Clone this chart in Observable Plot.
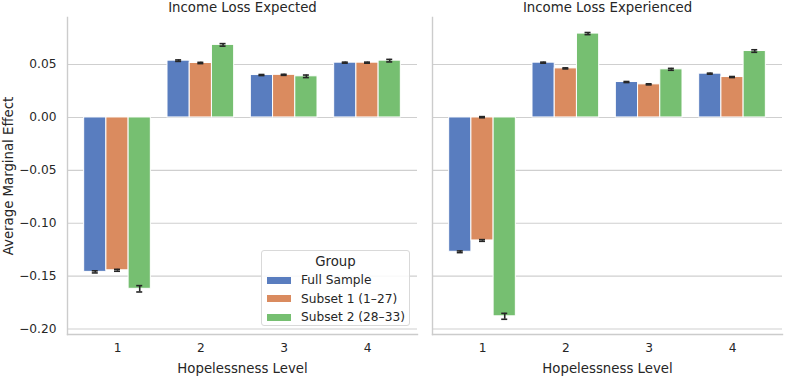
<!DOCTYPE html>
<html>
<head>
<meta charset="utf-8">
<script src="https://cdn.jsdelivr.net/npm/d3@7"></script>
<script src="https://cdn.jsdelivr.net/npm/@observablehq/plot@0.6"></script>
<style>
  html, body { margin: 0; padding: 0; background: #fff; }
  #wrap { position: relative; width: 785px; height: 377px; font-family: "DejaVu Sans", sans-serif; color: #262626; }
  #legend { position: absolute; left: 261px; top: 250px; width: 149px; height: 76px; border: 1px solid #d9d9d9; border-radius: 3px; background: rgba(255,255,255,0.85); box-sizing: border-box; }
  #legend .title { position: absolute; left: 0; width: 100%; top: 2px; text-align: center; font-size: 13.3px; line-height: 18px; }
  #legend .row { position: absolute; left: 5px; height: 18px; display: flex; align-items: center; font-size: 12.2px; white-space: nowrap; }
  #legend .sw { width: 24px; height: 7px; margin-right: 10px; }
</style>
</head>
<body>
<div id="wrap"></div>
<script>
const panels = ["Income Loss Expected", "Income Loss Experienced"];
const levels = [1, 2, 3, 4];
const groups = ["Full Sample", "Subset 1 (1–27)", "Subset 2 (28–33)"];
const colors = ["#597dbf", "#da8b5f", "#76bf71"];
const yTicks = [-0.20, -0.15, -0.10, -0.05, 0.00, 0.05];

// values per level (1..4) for each group
const expectedFull    = [-0.1460, 0.0537, 0.0401, 0.0518];
const expectedSub1    = [-0.1445, 0.0515, 0.0403, 0.0518];
const expectedSub2    = [-0.1620, 0.0686, 0.0389, 0.0537];
const experiencedFull = [-0.1270, 0.0518, 0.0335, 0.0414];
const experiencedSub1 = [-0.1163, 0.0464, 0.0313, 0.0382];
const experiencedSub2 = [-0.1880, 0.0793, 0.0455, 0.0628];

// error half-widths
const expectedFullErr    = [0.0010, 0.0007, 0.0005, 0.0005];
const expectedSub1Err    = [0.0009, 0.0006, 0.0005, 0.0005];
const expectedSub2Err    = [0.0030, 0.0012, 0.0012, 0.0012];
const experiencedFullErr = [0.0008, 0.0005, 0.0005, 0.0005];
const experiencedSub1Err = [0.0008, 0.0005, 0.0005, 0.0005];
const experiencedSub2Err = [0.0028, 0.0010, 0.0009, 0.0012];

// a stray error marker drawn at zero in the reference
const strayMarks = [{panel: "Income Loss Experienced", level: 1, group: "Subset 1 (1–27)", lo: -0.0003, hi: 0.0008}];

const series = [
  [panels[0], groups[0], expectedFull, expectedFullErr],
  [panels[0], groups[1], expectedSub1, expectedSub1Err],
  [panels[0], groups[2], expectedSub2, expectedSub2Err],
  [panels[1], groups[0], experiencedFull, experiencedFullErr],
  [panels[1], groups[1], experiencedSub1, experiencedSub1Err],
  [panels[1], groups[2], experiencedSub2, experiencedSub2Err]
];
const rows = [];
for (const [panel, group, vals, errs] of series) {
  levels.forEach((level, i) => rows.push({panel, group, level, value: vals[i], lo: vals[i] - errs[i], hi: vals[i] + errs[i]}));
}

const groupWidth = 0.8;
const bw = groupWidth / groups.length;
const left = d => d.level - groupWidth / 2 + groups.indexOf(d.group) * bw;
const center = d => left(d) + bw / 2;
const cap = 0.036;
const errs = rows.concat(strayMarks);
const ink = "#262626";

const chart = Plot.plot({
  width: 785,
  height: 377,
  marginLeft: 67,
  marginRight: 2,
  marginTop: 17,
  marginBottom: 43,
  style: {fontFamily: "DejaVu Sans, sans-serif", fontSize: "12.2px", color: ink, background: "white"},
  fx: {domain: panels, padding: 0.041, axis: null},
  x: {type: "linear", domain: [0.4, 4.6]},
  y: {domain: [-0.2052, 0.0945]},
  color: {domain: groups, range: colors},
  marks: [
    Plot.gridY(yTicks, {stroke: "#cfcfcf", strokeOpacity: 1, strokeWidth: 1.1}),
    Plot.frame({anchor: "left", stroke: "#cccccc", strokeWidth: 1.4}),
    Plot.frame({anchor: "bottom", stroke: "#cccccc", strokeWidth: 1.4}),
    Plot.rect(rows, {fx: "panel", x1: left, x2: d => left(d) + bw, y1: 0, y2: "value", fill: "group", stroke: "white", strokeWidth: 1}),
    Plot.ruleX(errs, {fx: "panel", x: center, y1: "lo", y2: "hi", stroke: ink, strokeWidth: 1.6}),
    Plot.ruleY(errs, {fx: "panel", y: "lo", x1: d => center(d) - cap, x2: d => center(d) + cap, stroke: ink, strokeWidth: 1.6}),
    Plot.ruleY(errs, {fx: "panel", y: "hi", x1: d => center(d) - cap, x2: d => center(d) + cap, stroke: ink, strokeWidth: 1.6}),
    Plot.axisY(yTicks, {tickSize: 0, tickPadding: 11, tickFormat: d3.format(".2f"), label: null, fill: ink, fontSize: "12.2px"}),
    Plot.axisX(levels, {tickSize: 0, tickPadding: 9, tickFormat: d3.format("d"), label: null, fill: ink, fontSize: "12.2px"}),
    Plot.text(panels, {fx: d => d, text: d => d, frameAnchor: "top", lineAnchor: "middle", dy: -10, fontSize: 13.3, fill: ink}),
    Plot.text(["Hopelessness Level"], {text: d => d, frameAnchor: "bottom", lineAnchor: "middle", dy: 34, fontSize: 13.3, fill: ink}),
    Plot.text(["Average Marginal Effect"], {fx: () => panels[0], text: d => d, frameAnchor: "left", textAnchor: "middle", lineAnchor: "middle", rotate: -90, dx: -59, fontSize: 13.3, fill: ink})
  ]
});

const wrap = document.getElementById("wrap");
wrap.appendChild(chart);

const legend = document.createElement("div");
legend.id = "legend";
const t = document.createElement("div");
t.className = "title";
t.textContent = "Group";
legend.appendChild(t);
groups.forEach((g, i) => {
  const r = document.createElement("div");
  r.className = "row";
  r.style.top = (20 + i * 18.5) + "px";
  const sw = document.createElement("span");
  sw.className = "sw";
  sw.style.background = colors[i];
  const lb = document.createElement("span");
  lb.textContent = g;
  r.appendChild(sw);
  r.appendChild(lb);
  legend.appendChild(r);
});
wrap.appendChild(legend);
</script>
</body>
</html>
